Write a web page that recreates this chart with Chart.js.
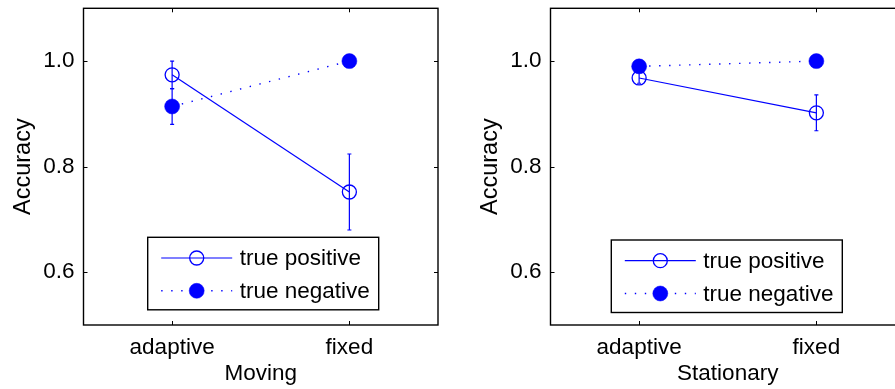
<!DOCTYPE html>
<html>
<head>
<meta charset="utf-8">
<script src="https://cdn.jsdelivr.net/npm/chart.js@4/dist/chart.umd.min.js"></script>
<style>
  html, body { margin: 0; padding: 0; background: #fff; overflow: hidden; width: 895px; height: 389px; }
  .panel { position: absolute; top: 0; width: 447px; height: 389px; }
</style>
</head>
<body>
<div class="panel" style="left:0px"><canvas id="moving" width="447" height="389"></canvas></div>
<div class="panel" style="left:467px"><canvas id="stationary" width="447" height="389"></canvas></div>
<script>
// Conditions on the x axis
const categories = ['adaptive', 'fixed'];
// Y axis labelled ticks
const yTicks = [0.6, 0.8, 1.0];
const yTickLabels = ['0.6', '0.8', '1.0'];
const seriesNames = ['true positive', 'true negative'];

// Moving targets: mean accuracy and error half-widths
const movingTruePos = [0.974, 0.752];
const movingTruePosErr = [0.026, 0.072];
const movingTrueNeg = [0.914, 1.0];
const movingTrueNegErr = [0.034, 0.0];

// Stationary targets
const stationaryTruePos = [0.968, 0.902];
const stationaryTruePosErr = [0.010, 0.034];
const stationaryTrueNeg = [0.990, 1.0];
const stationaryTrueNegErr = [0.005, 0.0];

const BLUE = '#0000ff';
const FONT = "'Liberation Sans', Arial, Helvetica, sans-serif";
const FS = 22.5;

// Error bars drawn under each dataset's own line and markers
const errorBars = {
  id: 'errorBars',
  beforeDatasetDraw(chart, args) {
    const ds = chart.data.datasets[args.index];
    if (!ds.errors) return;
    const { ctx } = chart;
    const x = chart.scales.x, y = chart.scales.y;
    ctx.save();
    ctx.strokeStyle = ds.borderColor;
    ctx.lineWidth = 1.2;
    ds.data.forEach((v, i) => {
      const e = ds.errors[i];
      if (!e) return;
      const px = x.getPixelForValue(i);
      const top = y.getPixelForValue(v + e);
      const bot = y.getPixelForValue(v - e);
      ctx.beginPath();
      ctx.moveTo(px, top); ctx.lineTo(px, bot);
      ctx.moveTo(px - 2, top); ctx.lineTo(px + 2, top);
      ctx.moveTo(px - 2, bot); ctx.lineTo(px + 2, bot);
      ctx.stroke();
    });
    ctx.restore();
  }
};

// Axes box with inward ticks on all four sides
const boxFrame = {
  id: 'boxFrame',
  afterDraw(chart) {
    const { ctx, chartArea: a } = chart;
    const x = chart.scales.x, y = chart.scales.y;
    const t = 4;
    ctx.save();
    ctx.strokeStyle = '#000';
    ctx.lineWidth = 1.4;
    ctx.strokeRect(a.left, a.top, a.right - a.left, a.bottom - a.top);
    ctx.lineWidth = 1;
    ctx.beginPath();
    yTicks.forEach(v => {
      const py = Math.round(y.getPixelForValue(v)) + 0.5;
      ctx.moveTo(a.left, py); ctx.lineTo(a.left + t, py);
      ctx.moveTo(a.right, py); ctx.lineTo(a.right - t, py);
    });
    categories.forEach((c, i) => {
      const px = Math.round(x.getPixelForValue(i)) + 0.5;
      ctx.moveTo(px, a.bottom); ctx.lineTo(px, a.bottom - t);
      ctx.moveTo(px, a.top); ctx.lineTo(px, a.top + t);
    });
    ctx.stroke();
    ctx.restore();
  }
};

// Boxed legend placed inside the plot area
const boxLegend = {
  id: 'boxLegend',
  afterDraw(chart, args, opts) {
    const { ctx, chartArea: a } = chart;
    const bx = a.left + opts.dx, by = a.top + opts.dy;
    const w = 231, h = 72.5;
    ctx.save();
    ctx.fillStyle = '#fff';
    ctx.fillRect(bx, by, w, h);
    ctx.strokeStyle = '#000';
    ctx.lineWidth = 1.4;
    ctx.strokeRect(bx, by, w, h);
    const rows = [20.7, 53.5];
    chart.data.datasets.forEach((ds, i) => {
      const ry = by + rows[i];
      ctx.strokeStyle = ds.borderColor;
      ctx.lineWidth = ds.borderWidth;
      ctx.setLineDash(ds.borderDash || []);
      ctx.beginPath();
      ctx.moveTo(bx + 13.5, ry); ctx.lineTo(bx + 84.5, ry);
      ctx.stroke();
      ctx.setLineDash([]);
      ctx.beginPath();
      ctx.arc(bx + 49, ry, ds.pointRadius, 0, Math.PI * 2);
      if (ds.pointBackgroundColor !== 'transparent') {
        ctx.fillStyle = ds.pointBackgroundColor;
        ctx.fill();
      }
      ctx.lineWidth = ds.pointBorderWidth;
      ctx.strokeStyle = ds.pointBorderColor;
      ctx.stroke();
      ctx.fillStyle = '#000';
      ctx.font = FS + 'px ' + FONT;
      ctx.textBaseline = 'middle';
      ctx.textAlign = 'left';
      ctx.fillText(ds.label, bx + 92, ry + 1);
    });
    ctx.restore();
  }
};

function makeChart(id, title, tp, tpErr, tn, tnErr, legendPos) {
  new Chart(document.getElementById(id), {
    type: 'line',
    data: {
      labels: categories,
      datasets: [
        {
          label: seriesNames[0], data: tp, errors: tpErr, order: 2,
          borderColor: BLUE, borderWidth: 1.2,
          pointRadius: 7, pointHoverRadius: 7,
          pointBackgroundColor: 'transparent', pointBorderColor: BLUE, pointBorderWidth: 1.3
        },
        {
          label: seriesNames[1], data: tn, errors: tnErr, order: 1,
          borderColor: BLUE, borderWidth: 1.4, borderDash: [1.4, 8.6],
          pointRadius: 7.5, pointHoverRadius: 7.5,
          pointBackgroundColor: BLUE, pointBorderColor: BLUE, pointBorderWidth: 0.5
        }
      ]
    },
    options: {
      responsive: false,
      animation: false,
      layout: { padding: { top: 5.3, right: 9, left: 0, bottom: 0 } },
      plugins: {
        legend: { display: false },
        tooltip: { enabled: false },
        boxLegend: legendPos
      },
      scales: {
        x: {
          type: 'category',
          offset: true,
          grid: { display: false, drawTicks: false },
          border: { display: false },
          ticks: { color: '#000', font: { family: FONT, size: FS }, padding: 9, maxRotation: 0 },
          title: { display: true, text: title, color: '#000', font: { family: FONT, size: FS }, padding: { top: 0, bottom: 1.5 } },
          afterFit(s) { s.height = 64; s.paddingLeft = 0; s.paddingRight = 0; }
        },
        y: {
          min: 0.5, max: 1.1,
          grid: { display: false, drawTicks: false },
          border: { display: false },
          afterBuildTicks(s) { s.ticks = yTicks.map(v => ({ value: v })); },
          ticks: {
            color: '#000', font: { family: FONT, size: FS }, padding: 9,
            callback: (v) => yTickLabels[yTicks.indexOf(v)]
          },
          title: { display: true, text: 'Accuracy', color: '#000', font: { family: FONT, size: 23.5 }, padding: { top: 9, bottom: 0 } },
          afterFit(s) { s.width = 83.5; s.paddingTop = 0; s.paddingBottom = 0; }
        }
      }
    },
    plugins: [errorBars, boxFrame, boxLegend]
  });
}

makeChart('moving', 'Moving', movingTruePos, movingTruePosErr, movingTrueNeg, movingTrueNegErr, { dx: 64.2, dy: 229 });
makeChart('stationary', 'Stationary', stationaryTruePos, stationaryTruePosErr, stationaryTrueNeg, stationaryTrueNegErr, { dx: 60.8, dy: 231.7 });
</script>
</body>
</html>
